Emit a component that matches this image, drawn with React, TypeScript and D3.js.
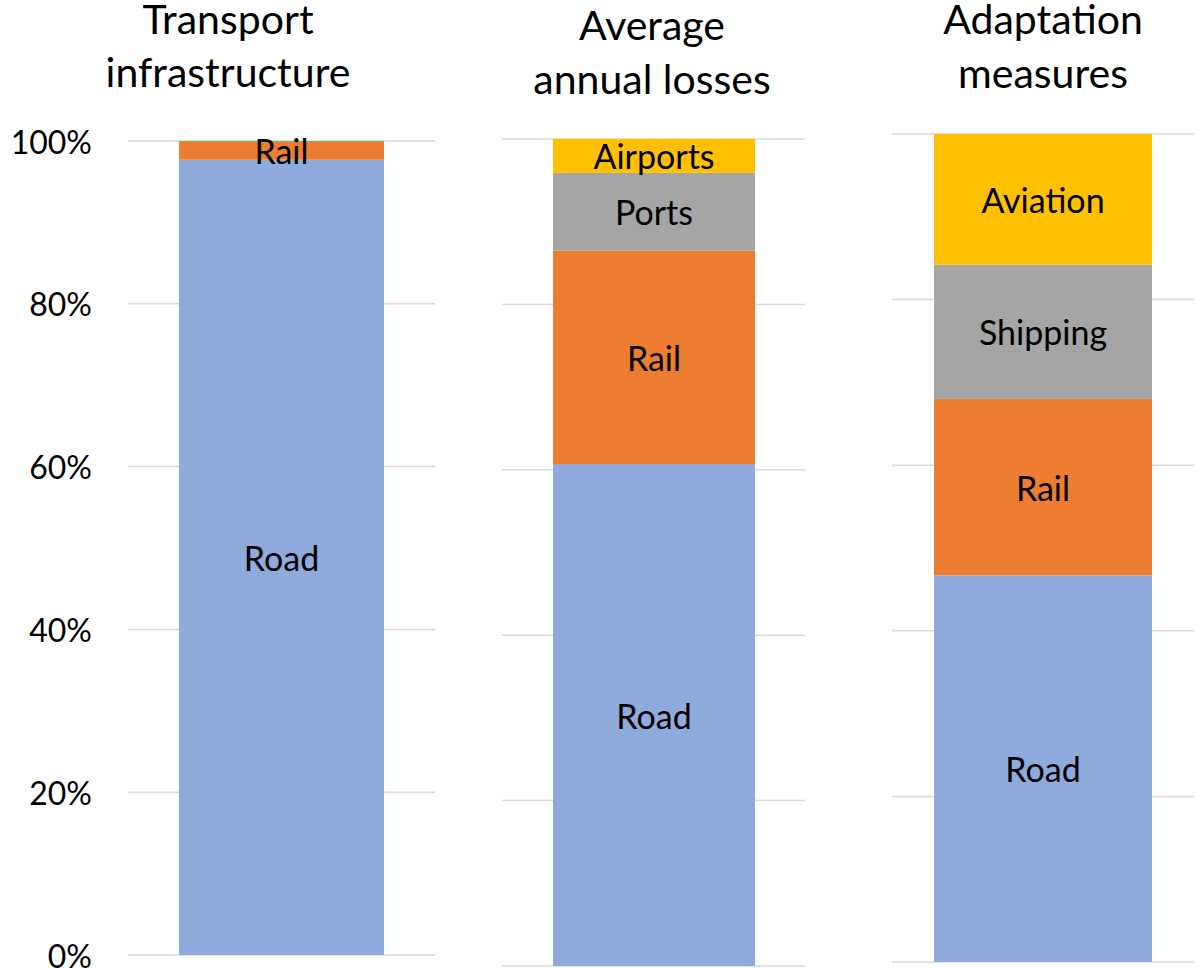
import * as d3 from 'd3';

// ---- data ----
const transportCats = ['Road', 'Rail', ''];
const transportVals = [97.7, 2.2, 0.1];

const lossCats = ['Road', 'Rail', 'Ports', 'Airports'];
const lossVals = [60.7, 25.8, 9.4, 4.1];

const adaptCats = ['Road', 'Rail', 'Shipping', 'Aviation'];
const adaptVals = [46.7, 21.3, 16.2, 15.8];

const yTicks = [0, 20, 40, 60, 80, 100];
const yTickLabels = ['0%', '20%', '40%', '60%', '80%', '100%'];

const colors: Record<string, string> = {
  Road: '#8FAADC',
  Rail: '#ED7D31',
  Ports: '#A5A5A5',
  Shipping: '#A5A5A5',
  Airports: '#FFC000',
  Aviation: '#FFC000',
  '': '#70AD47',
};

const FONT = 'Lato, "Open Sans", sans-serif';

// layout of the three separate little charts
const panels = [
  {
    title: ['Transport', 'infrastructure'], cats: transportCats, vals: transportVals,
    gridX: [128, 435], barX: [179, 384], y: [955, 141], titleX: 228, titleY: [34, 87], axis: true,
  },
  {
    title: ['Average', 'annual losses'], cats: lossCats, vals: lossVals,
    gridX: [502, 805], barX: [553, 755], y: [966, 139], titleX: 652, titleY: [40, 94], axis: false,
  },
  {
    title: ['Adaptation', 'measures'], cats: adaptCats, vals: adaptVals,
    gridX: [892, 1194], barX: [934, 1152], y: [962, 134], titleX: 1043, titleY: [34, 88], axis: false,
  },
];

function Panel({ p }: { p: (typeof panels)[number] }) {
  const y = d3.scaleLinear().domain([0, 100]).range(p.y);
  const ends = Array.from(d3.cumsum(p.vals));
  const segs = p.cats.map((c, i) => ({ cat: c, lo: ends[i] - p.vals[i], hi: ends[i] }));

  return (
    <g>
      {p.title.map((t, i) => (
        <text key={t} x={p.titleX} y={p.titleY[i]} textAnchor="middle" fontSize={41} fill="#000">
          {t}
        </text>
      ))}
      {yTicks.map((t) => (
        <line key={t} x1={p.gridX[0]} x2={p.gridX[1]} y1={y(t)} y2={y(t)} stroke="#D9D9D9" strokeWidth={1.5} />
      ))}
      {p.axis &&
        yTicks.map((t, i) => (
          <text key={t} x={92} y={y(t)} textAnchor="end" dominantBaseline="central" fontSize={32} fill="#000">
            {yTickLabels[i]}
          </text>
        ))}
      {segs.map((s) => (
        <rect
          key={s.cat + s.lo}
          x={p.barX[0]}
          width={p.barX[1] - p.barX[0]}
          y={y(s.hi)}
          height={y(s.lo) - y(s.hi)}
          fill={colors[s.cat]}
        />
      ))}
      {segs
        .filter((s) => s.cat)
        .map((s) => (
          <text
            key={'l' + s.cat}
            x={(p.barX[0] + p.barX[1]) / 2}
            y={y((s.lo + s.hi) / 2)}
            textAnchor="middle"
            dominantBaseline="central"
            fontSize={34}
            fill="#000"
          >
            {s.cat}
          </text>
        ))}
    </g>
  );
}

export default function App() {
  return (
    <svg
      width={1197}
      height={968}
      style={{ position: 'absolute', left: 0, top: 0, background: '#fff', fontFamily: FONT }}
    >
      {panels.map((p) => (
        <Panel key={p.title[0]} p={p} />
      ))}
    </svg>
  );
}
